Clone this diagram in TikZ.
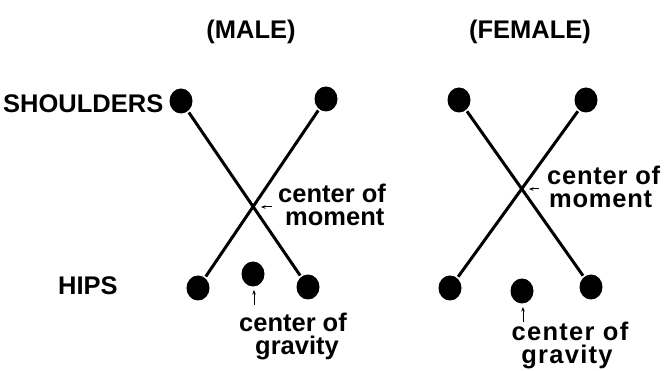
\documentclass[tikz,border=0pt]{standalone}
\usepackage{fontspec}
\setmainfont{Liberation Sans}
\usetikzlibrary{shapes.geometric,arrows.meta}
\tikzset{
  dot/.style={ellipse,fill=black,inner sep=0pt,minimum width=23pt,minimum height=25pt},
  bar/.style={line width=3pt,shorten <=1.5pt,shorten >=1.5pt},
  pointer/.style={line width=1pt,-{Stealth[length=4.5pt,width=3.5pt]}},
  lbl/.style={inner sep=0pt,font=\bfseries\fontsize{25.5}{23}\selectfont},
}
\begin{document}
\begin{tikzpicture}[x=1pt,y=-1pt]
\useasboundingbox (0,0) rectangle (667,371);
% titles
\node[lbl,anchor=base] (tm) at (251,39) {(MALE)};
\node[lbl,anchor=base] (tf) at (530,39) {(FEMALE)};
\node[lbl,anchor=base west] (sh) at (3,113) {SHOULDERS};
\node[lbl,anchor=base west] (hp) at (58,295) {HIPS};
% male
\node[dot] (ms1) at (181,101) {};
\node[dot] (ms2) at (326,99) {};
\node[dot] (mh1) at (198,288) {};
\node[dot] (mg) at (253,274) {};
\node[dot] (mh2) at (308,287) {};
\draw[bar] (ms1) -- (mh2);
\draw[bar] (ms2) -- (mh1);
\coordinate (mma0) at (272,207);
\coordinate (mma1) at (261,207);
\draw[pointer] (mma0) -- (mma1);
\node[lbl,anchor=base west,align=left] (mm) at (278,226) {center of\\\hspace*{7pt}moment};
\coordinate (mga0) at (254,305);
\coordinate (mga1) at (254,290);
\draw[pointer] (mga0) -- (mga1);
\node[lbl,anchor=base,align=center] (mgt) at (293,355) {center of\\\hspace*{8pt}gravity};
% female
\node[dot] (fs1) at (459,100) {};
\node[dot] (fs2) at (586,100) {};
\node[dot] (fh1) at (450,288) {};
\node[dot] (fg) at (522,291) {};
\node[dot] (fh2) at (591,287) {};
\draw[bar] (fs1) -- (fh2);
\draw[bar] (fs2) -- (fh1);
\coordinate (fma0) at (539,189);
\coordinate (fma1) at (529,189);
\draw[pointer] (fma0) -- (fma1);
\node[lbl,anchor=base west,align=left,font=\bfseries\fontsize{25.5}{23}\selectfont\addfontfeature{LetterSpace=3}] (fm) at (547,208) {center of\\\hspace*{2pt}moment};
\coordinate (fga0) at (523,322);
\coordinate (fga1) at (523,307);
\draw[pointer] (fga0) -- (fga1);
\node[lbl,anchor=base,align=center,font=\bfseries\fontsize{25.5}{23}\selectfont\addfontfeature{LetterSpace=5}] (fgt) at (570,363) {center of\\gravity\hspace*{6pt}};
\end{tikzpicture}
\end{document}
